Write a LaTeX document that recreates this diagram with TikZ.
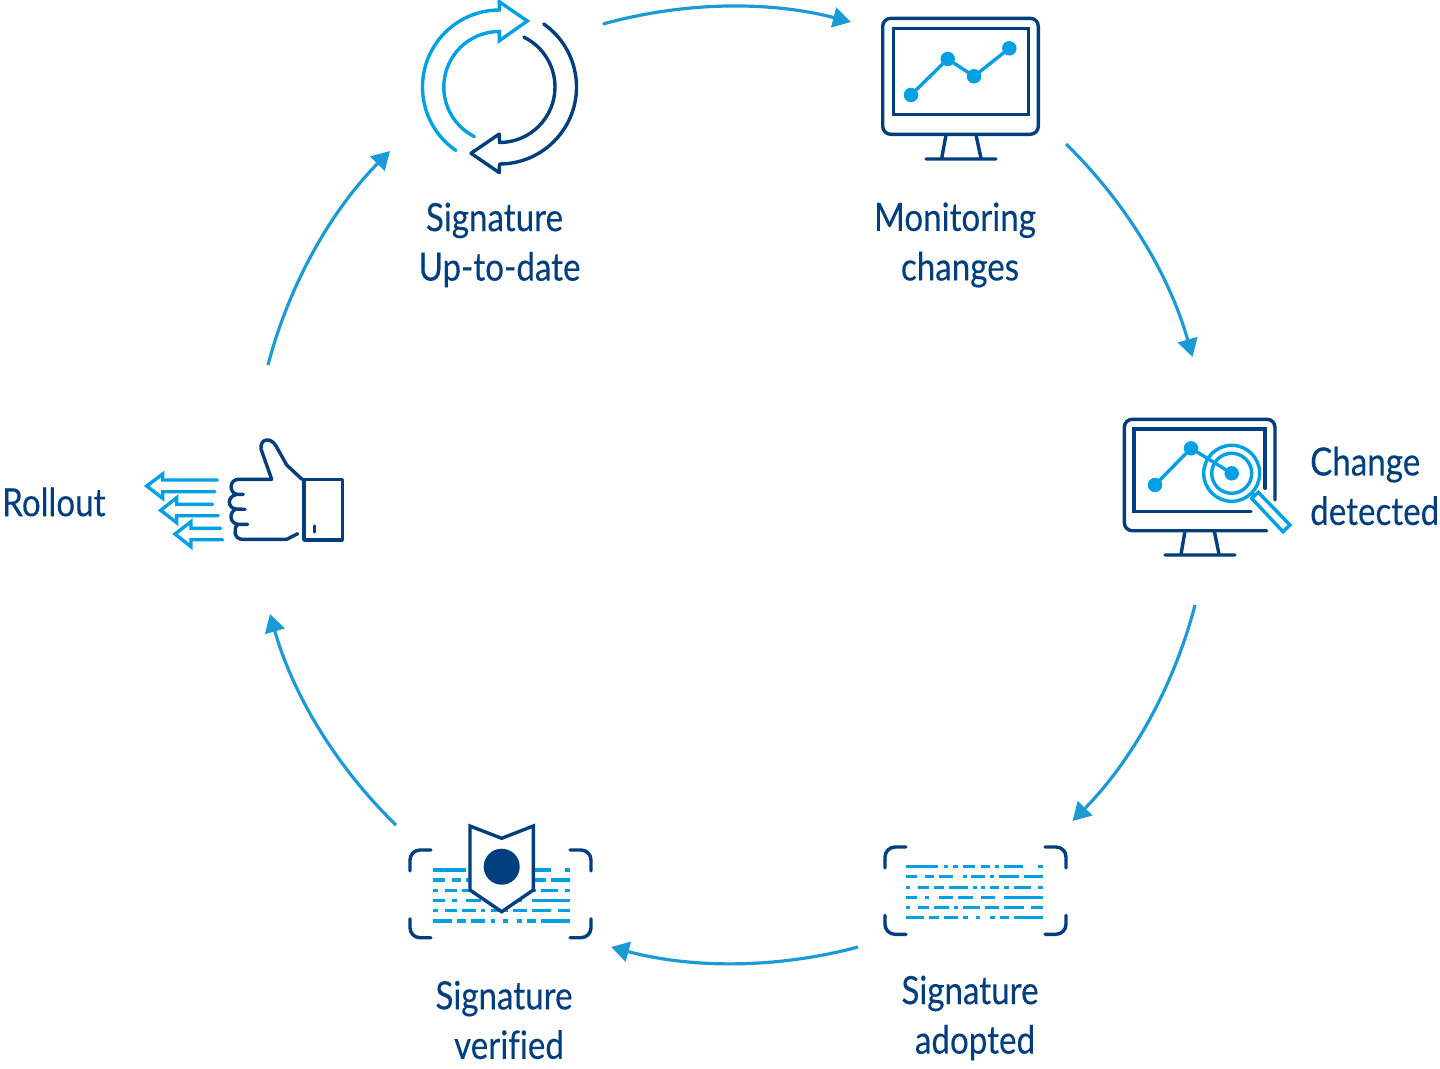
\documentclass[tikz,border=0pt]{standalone}
\usepackage{fontspec}
\setmainfont[FakeStretch=0.85,FakeBold=0.2,Ligatures=NoCommon]{Lato}
\usetikzlibrary{arrows.meta, positioning}
\definecolor{navy}{HTML}{003E7E}
\definecolor{sky}{HTML}{00A0E3}
\definecolor{flowblue}{HTML}{1C9AD6}
\tikzset{%
  icondark/.style={draw=navy, line width=3.4pt, line cap=round, line join=round},
  iconlight/.style={draw=sky, line width=3.4pt, line cap=round, line join=miter},
  flow/.style={draw=flowblue, line width=3.2pt, -{Triangle[length=18pt,width=20pt]}, bend left=15, looseness=0.87},
  label/.style={text=navy, font=\fontsize{39}{49.5}\selectfont, inner sep=0pt},
  dot/.style={circle, fill=sky, inner sep=0pt, minimum size=14.5pt},
}
\newcommand{\sigdashes}{%
  \foreach \y/\segs in {95/{107/205,222/235,250/263,280/316,332/360,375/388,403/460,503/518},
    125/{107/142,165/192,207/250,280/292,303/345,360/373,388/446,461/518},
    157/{107/121,143/178,193/221,236/293,308/322,332/345,360/388,403/417,432/482,503/518},
    187/{107/142,165/178,207/250,265/308,332/374,403/518},
    217/{107/121,143/178,193/236,251/264,280/331,346/388,403/461,482/518},
    248/{107/163,178/206,222/264,280/293,317/331,360/374,389/417,432/518}}
    \foreach \a/\b in \segs \draw[draw=sky, line width=3.4pt] (\a,\y) -- (\b,\y);}
\newcommand{\sigbrackets}[4]{%
  \draw[icondark] (#1,#3+21) -- (#1,#3+10) arc[start angle=180,end angle=270,radius=10] -- (#1+21,#3);
  \draw[icondark] (#2-21,#3) -- (#2-10,#3) arc[start angle=270,end angle=360,radius=10] -- (#2,#3+21);
  \draw[icondark] (#1,#4-19) -- (#1,#4-10) arc[start angle=180,end angle=90,radius=10] -- (#1+21,#4);
  \draw[icondark] (#2-21,#4) -- (#2-10,#4) arc[start angle=90,end angle=0,radius=10] -- (#2,#4-19);}
\begin{document}
\begin{tikzpicture}[x=1pt,y=-1pt]
  \useasboundingbox (0,0) rectangle (1440,1068);

  \coordinate (sync out) at (603,24);
  \coordinate (monitor in) at (851,22);
  \coordinate (monitor out) at (1066,144);
  \coordinate (change in) at (1192.5,357);
  \coordinate (change out) at (1195,605);
  \coordinate (adopted in) at (1072.5,821);
  \coordinate (adopted out) at (858,947);
  \coordinate (verified in) at (611,947);
  \coordinate (verified out) at (396,825);
  \coordinate (rollout in) at (270,614);
  \coordinate (rollout out) at (268,365);
  \coordinate (sync in) at (390,151);

  \draw[flow] (sync out) to (monitor in);
  \draw[flow] (monitor out) to (change in);
  \draw[flow] (change out) to (adopted in);
  \draw[flow] (adopted out) to (verified in);
  \draw[flow] (verified out) to (rollout in);
  \draw[flow] (rollout out) to (sync in);

  \node[label, align=center] (sync label) at (499.5,245) {Signature\hspace*{10pt}\\Up-to-date};
  \node[label, align=center] (monitor label) at (960,245) {Monitoring\hspace*{10pt}\\changes};
  \node[label, align=left, anchor=west] (change label) at (1310,486) {Change\\detected};
  \node[label, align=center] (adopted label) at (975,1018) {Signature\hspace*{10pt}\\adopted};
  \node[label, align=center] (verified label) at (509,1020) {Signature\hspace*{10pt}\\verified};
  \node[label, anchor=west] (rollout label) at (2,502) {Rollout};

  % sync icon
  \draw[iconlight, line cap=round] ([shift={(124.5:77)}]499.5,87) arc[start angle=124.5,end angle=270,radius=77]
    -- (499.3,1.7) -- (527.3,21) -- (499.3,40.7) -- (499.3,31.5)
    arc[start angle=270,end angle=116.7,radius=55.5];
  \draw[icondark] ([shift={(-55:77)}]499.5,87) arc[start angle=-55,end angle=90,radius=77]
    -- (499.3,172.7) -- (471,153.3) -- (499.3,134) -- (499.5,142.5)
    arc[start angle=90,end angle=-64,radius=55.5];

  % monitor icon
  \draw[icondark, rounded corners=8pt] (882.7,18.3) rectangle (1038.3,134.3);
  \draw[icondark, line join=miter] (893.3,28.3) rectangle (1028.3,114.3);
  \draw[icondark] (946,135) -- (941.7,158.3) (976,135) -- (981,158.3) (926,159) -- (996,159);
  \node[dot] (p1) at (911,95) {};
  \node[dot] (p2) at (947.7,59) {};
  \node[dot] (p3) at (974,76.3) {};
  \node[dot] (p4) at (1009.3,48.3) {};
  \draw[iconlight] (p1) -- (p2) -- (p3) -- (p4);

  % change icon
  \draw[icondark, rounded corners=8pt] (1275,500) -- (1275,419.3) -- (1124.3,419.3) -- (1124.3,530.7) -- (1266.7,530.7);
  \draw[icondark, line join=miter] (1265,488.3) -- (1265,429) -- (1134,429) -- (1134,511.7) -- (1251,511.7);
  \draw[icondark] (1185,531) -- (1181,554.3) (1214.3,531) -- (1219,554.3) (1165,555) -- (1235,555);
  \node[dot] (q1) at (1155,485) {};
  \node[dot] (q2) at (1191,448.3) {};
  \node[dot] (q3) at (1231.7,473.3) {};
  \draw[iconlight] (q1) -- (q2) -- (q3);
  \draw[iconlight] (q3) circle[radius=28];
  \draw[iconlight] (q3) circle[radius=20];
  \draw[iconlight] (1251.5,493) -- (1255,495.3);
  \draw[iconlight] (1251.7,498.3) -- (1258.3,492.3) -- (1290,525) -- (1283,531.7) -- cycle;

  % adopted icon
  \begin{scope}[shift={(870,835)}, scale=1/3]
    \sigdashes
  \end{scope}
  \sigbrackets{885}{1066}{847}{934.3}

  % verified icon
  \begin{scope}[shift={(397.3,838.3)}, scale=1/3]
    \sigdashes
  \end{scope}
  \sigbrackets{410}{591}{850}{937.7}
  \draw[icondark, line join=miter, fill=white] (470,826) -- (501.7,838.3) -- (533.3,826) -- (533.3,890) -- (501.7,911.7) -- (470,890) -- cycle;
  \node[circle, fill=navy, inner sep=0pt, minimum size=36pt] (seal) at (501.7,866.7) {};

  % rollout icon
  \draw[icondark] (304,479.3) rectangle (342.3,540);
  \draw[icondark] (314.3,526) -- (314.3,532);
  \draw[icondark] (302,479.3) -- (286.7,465) -- (276,446) .. controls (271,437) and (260,438) .. (261,449)
    -- (271.7,479.3) -- (238,479.3) .. controls (229,480) and (229,493) .. (237,494.3) -- (243.3,494.3)
    (237,494.3) .. controls (227,496) and (227,508) .. (236,509) -- (245,509.3)
    (236,509) .. controls (229,512) and (229,523) .. (238,524.3) -- (247.7,524.3)
    (238,524.3) .. controls (233,528) and (234,539) .. (242,539.3) -- (286.7,539.3) -- (297.7,533.7);
  \draw[iconlight] (217.3,480) -- (162.7,480) -- (162.7,474) -- (146.7,486) -- (162.7,498.3) -- (162.7,491.7) -- (215,491.7);
  \draw[iconlight] (212.7,504.3) -- (176.7,504.3) -- (176.7,497.7) -- (160.7,510.3) -- (176.7,522.7) -- (176.7,515.7) -- (218.3,515.7);
  \draw[iconlight] (220.7,528.3) -- (191,528.3) -- (191,521.7) -- (175,534) -- (191,546.7) -- (191,539.7) -- (222.7,539.7);
\end{tikzpicture}
\end{document}
